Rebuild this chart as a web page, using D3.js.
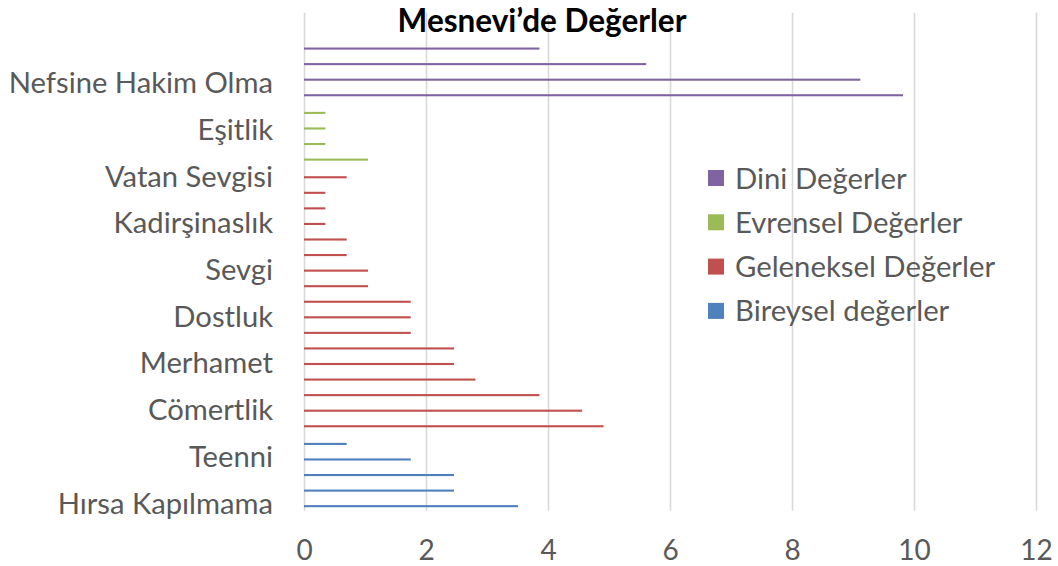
<!DOCTYPE html>
<html>
<head>
<meta charset="utf-8">
<script src="https://cdn.jsdelivr.net/npm/d3@7/dist/d3.min.js"></script>
<style>
  html, body { margin: 0; padding: 0; background: #fff; }
  svg { display: block; }
  text { font-family: Lato, "Open Sans", sans-serif; }
</style>
</head>
<body>
<svg id="chart" width="1058" height="566"></svg>
<script>
// ---- Data (categories listed bottom to top, as drawn) ----
const title = "Mesnevi\u2019de Değerler";
const categories = [
  "Hırsa Kapılmama", "", "", "Teenni", "", "", "Cömertlik", "", "",
  "Merhamet", "", "", "Dostluk", "", "", "Sevgi", "", "",
  "Kadirşinaslık", "", "", "Vatan Sevgisi", "", "", "Eşitlik", "", "",
  "Nefsine Hakim Olma", "", "", "", ""
];
const seriesNames = ["Bireysel değerler", "Geleneksel Değerler", "Evrensel Değerler", "Dini Değerler"];
const seriesColors = ["#4F81BD", "#C0504D", "#9BBB59", "#8064A2"];
const N = null;
const bireysel   = [3.51, 2.46, 2.46, 1.75, 0.70, N, N, N, N, N, N, N, N, N, N, N, N, N, N, N, N, N, N, N, N, N, N, N, N, N, N, N];
const geleneksel = [N, N, N, N, N, 4.91, 4.56, 3.86, 2.81, 2.46, 2.46, 1.75, 1.75, 1.75, 1.05, 1.05, 0.70, 0.70, 0.35, 0.35, 0.35, 0.70, N, N, N, N, N, N, N, N, N, N];
const evrensel   = [N, N, N, N, N, N, N, N, N, N, N, N, N, N, N, N, N, N, N, N, N, N, 1.05, 0.35, 0.35, 0.35, N, N, N, N, N, N];
const dini       = [N, N, N, N, N, N, N, N, N, N, N, N, N, N, N, N, N, N, N, N, N, N, N, N, N, N, 9.82, 9.12, 5.61, 3.86, N, N];
const seriesValues = [bireysel, geleneksel, evrensel, dini];
const xTicks = [0, 2, 4, 6, 8, 10, 12];
const legendOrder = ["Dini Değerler", "Evrensel Değerler", "Geleneksel Değerler", "Bireysel değerler"];

// ---- Layout ----
const svg = d3.select("#chart");
const plot = { left: 304, right: 1036, top: 12.8, bottom: 510.8 };
const textColor = "#595959";

const x = d3.scaleLinear().domain([0, 12]).range([plot.left, plot.right]);
const y0 = d3.scaleBand().domain(d3.range(categories.length))
  .range([plot.bottom, plot.top]).paddingInner(0).paddingOuter(0);
// within a category: series 1 at the bottom, series 4 at top
const clusterH = 8.4;
const y1 = d3.scaleBand().domain([3, 2, 1, 0]).range([0, clusterH]);

svg.append("rect").attr("width", 1058).attr("height", 566).attr("fill", "#fff");

// gridlines + x tick labels
const xAxis = d3.axisBottom(x).tickValues(xTicks).tickSize(-(plot.bottom - plot.top)).tickFormat(d3.format("d"));
const gx = svg.append("g").attr("transform", `translate(0,${plot.bottom})`).call(xAxis);
gx.select(".domain").remove();
gx.selectAll(".tick line").attr("stroke", "#D9D9D9").attr("stroke-width", 1.6);
gx.selectAll(".tick text")
  .attr("fill", textColor).attr("font-size", 28).attr("y", 0).attr("dy", 0)
  .attr("transform", "translate(0,49.5)");

// bars
seriesValues.forEach((vals, si) => {
  svg.append("g").selectAll("rect")
    .data(vals.map((v, ci) => ({ v, ci })).filter(d => d.v != null))
    .join("rect")
    .attr("x", x(0))
    .attr("y", d => y0(d.ci) + (y0.bandwidth() - clusterH) / 2 + y1(si))
    .attr("height", y1.bandwidth())
    .attr("width", d => x(d.v) - x(0))
    .attr("fill", seriesColors[si]);
});

// category labels
const yAxis = d3.axisLeft(y0).tickSize(0).tickPadding(0).tickFormat(i => categories[i]);
const gy = svg.append("g").attr("transform", `translate(${plot.left - 31},0)`).call(yAxis);
gy.select(".domain").remove();
gy.selectAll(".tick text").attr("fill", textColor).attr("font-size", 29.2).attr("x", 0).attr("dy", "0.36em");

// title
svg.append("text").attr("x", 542).attr("y", 32).attr("text-anchor", "middle")
  .attr("font-size", 31.5).attr("font-weight", "bold").attr("fill", "#000").text(title);

// legend
const lg = svg.append("g").attr("transform", "translate(708,178)");
legendOrder.forEach((name, i) => {
  const si = seriesNames.indexOf(name);
  const row = lg.append("g").attr("transform", `translate(0,${i * 44.3})`);
  row.append("rect").attr("x", 0).attr("y", -8).attr("width", 16).attr("height", 16).attr("fill", seriesColors[si]);
  row.append("text").attr("x", 27).attr("y", 0).attr("dy", "0.36em")
    .attr("font-size", 29.3).attr("fill", textColor).text(name);
});
</script>
</body>
</html>
